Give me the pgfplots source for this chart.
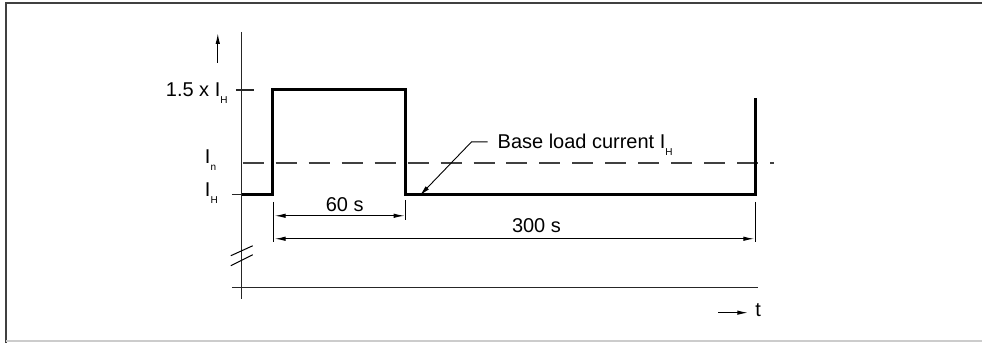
\documentclass[border=0pt]{standalone}
\usepackage{fontspec}
\setmainfont{Liberation Sans}
\usepackage{pgfplots}
\pgfplotsset{compat=1.18}
\usetikzlibrary{arrows.meta}
\newcommand{\sub}[1]{\raisebox{-7pt}{\fontsize{10}{10}\selectfont #1}}
\begin{document}
\begin{tikzpicture}[
    big/.style={font=\fontsize{20}{24}\selectfont, inner sep=0pt},
    arr/.style={-{Latex[length=11pt,width=4.5pt]}},
    dim/.style={{Latex[length=11pt,width=4.5pt]}-{Latex[length=11pt,width=4.5pt]}, line width=1pt},
]
\begin{axis}[
    hide axis, scale only axis, clip=false,
    width=983pt, height=343pt,
    xmin=0, xmax=983, ymin=0, ymax=343,
    y dir=reverse,
]
% frame
\path (axis cs:0,0) rectangle (axis cs:983,343);
\draw[line width=2pt, black!75] (axis cs:6.5,343) -- (axis cs:6.5,3) -- (axis cs:983,3);
\draw[line width=1.5pt, black!20] (axis cs:6.5,341.5) -- (axis cs:983,341.5);

% axes
\draw[line width=1.4pt, black!85] (axis cs:242,32) -- (axis cs:242,299);
\draw[line width=1.4pt, black!85] (axis cs:232,288) -- (axis cs:759,288);
\draw[line width=1.4pt, black!85] (axis cs:236,90) -- (axis cs:254,90);
\draw[line width=1.4pt, black!85] (axis cs:232,195) -- (axis cs:242,195);
\draw[line width=1pt] (axis cs:231,256) -- (axis cs:253,246);
\draw[line width=1pt] (axis cs:231,266) -- (axis cs:253,255);
\draw[arr, line width=1.2pt] (axis cs:218,63) -- (axis cs:218,33);
\draw[arr, line width=1.2pt] (axis cs:719,313) -- (axis cs:749,313);

% nominal current
\addplot[line width=1.5pt, black!75, dash pattern=on 21pt off 12pt] coordinates {(243,163) (775,163)};

% load cycle
\addplot[line width=3pt, black, line join=miter] coordinates {
    (242,195) (273,195) (273,90) (406,90) (406,195) (756,195) (756,98)
};

% dimensions
\draw[line width=1pt] (axis cs:274,202) -- (axis cs:274,242);
\draw[line width=1pt] (axis cs:406,200) -- (axis cs:406,220);
\draw[line width=1pt] (axis cs:756,202) -- (axis cs:756,242);
\draw[dim] (axis cs:275,216) -- (axis cs:405,216);
\draw[dim] (axis cs:275,239) -- (axis cs:755,239);
\draw[arr, line width=0.9pt] (axis cs:488,142) -- (axis cs:472,142) -- (axis cs:420,196);

% labels
\node[big, anchor=base east] at (axis cs:228,97) {1.5 x I\sub{H}};
\node[big, anchor=base west] at (axis cs:205,164) {I\sub{n}};
\node[big, anchor=base west] at (axis cs:205,197) {I\sub{H}};
\node[big, anchor=base] at (axis cs:345,212) {60 s};
\node[big, anchor=base] at (axis cs:537,233) {300 s};
\node[big, anchor=base west] at (axis cs:498,149) {Base load current I\sub{H}};
\node[big, anchor=base west] at (axis cs:756,317) {t};
\end{axis}
\end{tikzpicture}
\end{document}
